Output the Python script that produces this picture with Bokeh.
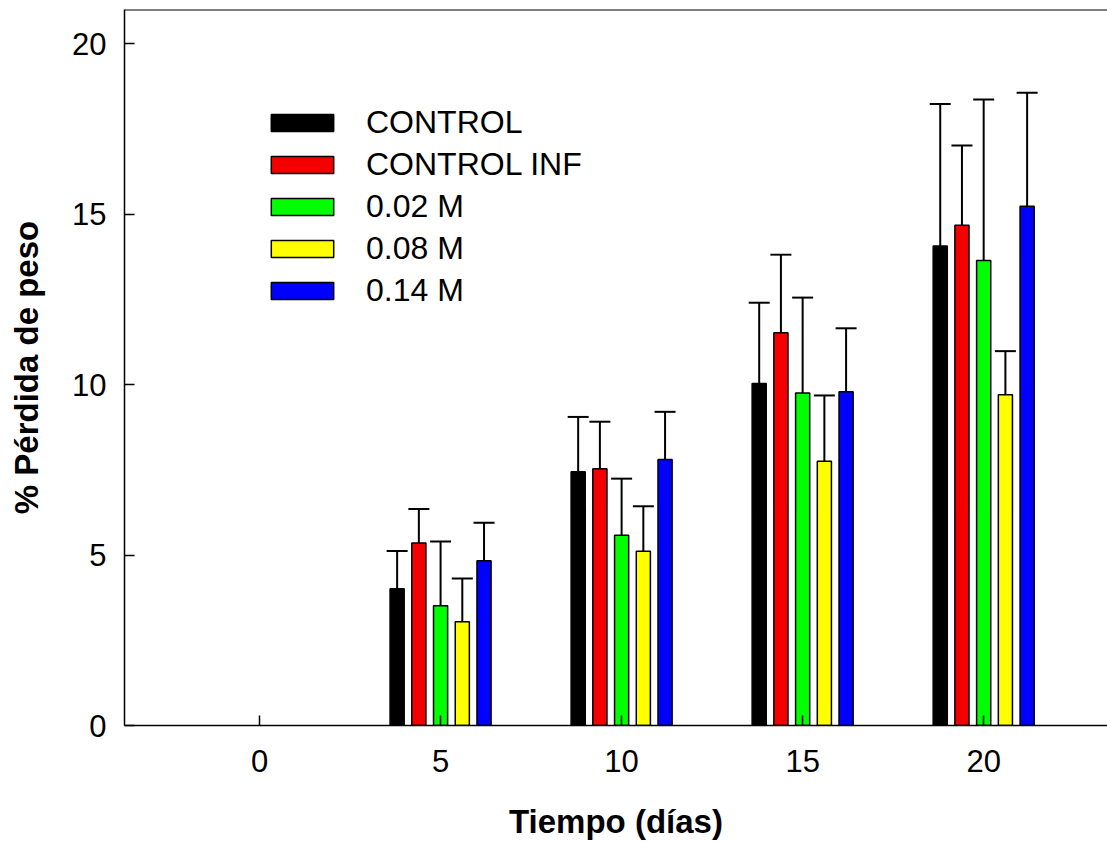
from bokeh.plotting import figure
from bokeh.models import (ColumnDataSource, Legend, LegendItem, Whisker, TeeHead,
                          Span, FixedTicker, Range1d)
from bokeh.embed import file_html
from bokeh.resources import INLINE

# ---- data ----
days = [5, 10, 15, 20]
x_ticks = [0, 5, 10, 15, 20]
y_ticks = [0, 5, 10, 15, 20]
series = ["CONTROL", "CONTROL INF", "0.02 M", "0.08 M", "0.14 M"]
colors = ["#000000", "#F50000", "#00FF00", "#FFFF00", "#0000FF"]
control_mean = [4.01, 7.44, 10.03, 14.06]
control_sd = [1.11, 1.61, 2.37, 4.17]
control_inf_mean = [5.35, 7.53, 11.52, 14.67]
control_inf_sd = [1.00, 1.38, 2.29, 2.34]
m002_mean = [3.51, 5.58, 9.75, 13.64]
m002_sd = [1.89, 1.66, 2.80, 4.72]
m008_mean = [3.04, 5.11, 7.75, 9.70]
m008_sd = [1.27, 1.32, 1.93, 1.28]
m014_mean = [4.83, 7.80, 9.79, 15.23]
m014_sd = [1.12, 1.40, 1.86, 3.33]

means = [control_mean, control_inf_mean, m002_mean, m008_mean, m014_mean]
sds = [control_sd, control_inf_sd, m002_sd, m008_sd, m014_sd]

# ---- layout/styling ----
offsets = [-1.2, -0.6, 0.0, 0.6, 1.2]
bar_w = 0.39
FONT = "Liberation Sans"

p = figure(width=1107, height=842, output_backend="svg", toolbar_location=None,
           x_range=Range1d(-3.73, 23.42), y_range=Range1d(0, 21.0),
           min_border_left=124, min_border_top=9, min_border_bottom=117,
           min_border_right=0)
p.xgrid.visible = False
p.ygrid.visible = False
p.outline_line_color = None
p.background_fill_color = "white"

items = []
for name, col, off, m, s in zip(series, colors, offsets, means, sds):
    xs = [d + off for d in days]
    upper = [a + b for a, b in zip(m, s)]
    src = ColumnDataSource(dict(x=xs, top=m, upper=upper))
    w = Whisker(base="x", lower="top", upper="upper", source=src,
                line_color="black", line_width=2,
                upper_head=TeeHead(size=21, line_color="black", line_width=2),
                lower_head=None, level="underlay")
    p.add_layout(w)
    r = p.vbar(x="x", top="top", bottom=0, width=bar_w, source=src,
               fill_color=col, line_color="black", line_width=1.5)
    items.append(LegendItem(label=name, renderers=[r]))

# top frame line
p.add_layout(Span(location=21.0, dimension="width", line_color="black", line_width=2))

# axes
for ax in (p.xaxis[0], p.yaxis[0]):
    ax.axis_line_width = 1.5
    ax.axis_line_color = "black"
    ax.major_tick_line_width = 1.5
    ax.major_tick_line_color = "black"
    ax.major_tick_in = 10
    ax.major_tick_out = 0
    ax.minor_tick_line_color = None
    ax.major_label_text_font = FONT
    ax.major_label_text_font_size = "31px"
    ax.major_label_text_color = "black"
    ax.axis_label_text_font = FONT
    ax.axis_label_text_font_style = "bold"
    ax.axis_label_text_font_size = "33px"
    ax.axis_label_text_color = "black"

p.xaxis.ticker = FixedTicker(ticks=x_ticks)
p.yaxis.ticker = FixedTicker(ticks=y_ticks)
p.xaxis.axis_label = "Tiempo (días)"
p.yaxis.axis_label = "% Pérdida de peso"
p.xaxis.major_label_standoff = 24
p.yaxis.major_label_standoff = 18
p.xaxis.axis_label_standoff = 28
p.yaxis.axis_label_standoff = 24

legend = Legend(items=items, location=(139, 416), orientation="vertical",
                glyph_width=78, glyph_height=21, label_height=21,
                label_standoff=25, spacing=5, padding=0, margin=0,
                border_line_color=None, background_fill_alpha=0,
                label_text_font=FONT, label_text_font_size="32px",
                label_text_color="black")
p.add_layout(legend, "center")

open("out.html", "w").write(file_html(p, INLINE))
